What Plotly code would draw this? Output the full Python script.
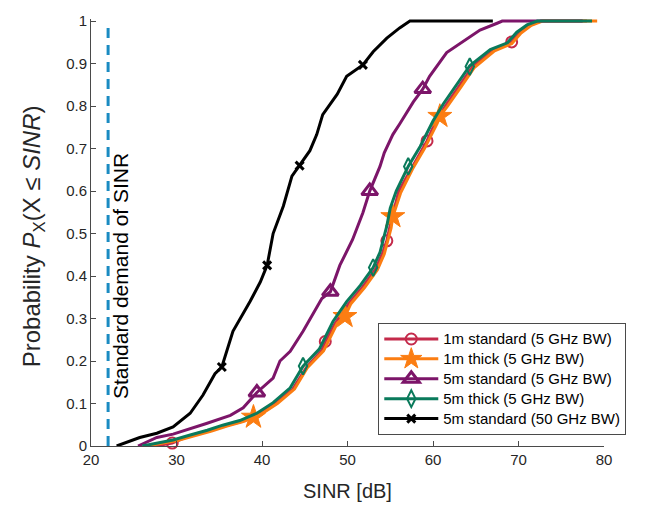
import plotly.graph_objects as go

# ---------------- data ----------------
# 1m standard (5 GHz BW)
s1_x = [27.5, 29.5, 31.0, 33.0, 35.2, 37.5, 39.7, 41.6, 43.6, 45.2, 47.0, 47.4, 48.6, 50.2, 51.8, 53.3,
        54.1, 54.6, 55.0, 56.0, 57.5, 58.8, 59.3, 60.3, 61.5, 63.1, 64.6, 67.0, 69.2, 70.1, 71.3, 72.6, 78.0]
s1_y = [0.0, 0.007, 0.02, 0.032, 0.045, 0.057, 0.075, 0.1, 0.134, 0.185, 0.225, 0.246, 0.29, 0.337, 0.375, 0.417,
        0.454, 0.483, 0.52, 0.6, 0.655, 0.7, 0.718, 0.762, 0.802, 0.848, 0.892, 0.93, 0.951, 0.972, 0.99, 1.0, 1.0]
s1_mx = [29.5, 47.4, 54.6, 59.3, 69.2]
s1_my = [0.007, 0.246, 0.483, 0.718, 0.951]

# 1m thick (5 GHz BW)
s2_x = [26.5, 28.2, 30.1, 32.1, 34.1, 35.9, 37.9, 39.0, 39.9, 41.8, 43.8, 45.3, 47.2, 48.8, 49.7, 50.4, 52.0,
        53.5, 54.3, 55.1, 55.3, 56.2, 57.6, 59.0, 60.5, 60.8, 61.7, 63.3, 64.8, 67.2, 69.2, 70.3, 71.5, 72.8, 79.2]
s2_y = [0.0, 0.006, 0.013, 0.024, 0.035, 0.047, 0.058, 0.068, 0.075, 0.1, 0.134, 0.184, 0.224, 0.289, 0.305, 0.335,
        0.373, 0.415, 0.452, 0.513, 0.54, 0.595, 0.652, 0.7, 0.76, 0.776, 0.8, 0.846, 0.89, 0.93, 0.947, 0.972,
        0.99, 1.0, 1.0]
s2_mx = [39.0, 49.7, 55.3, 60.8]
s2_my = [0.068, 0.305, 0.54, 0.776]

# 5m standard (5 GHz BW)
s3_x = [25.5, 27.7, 29.6, 31.6, 33.5, 36.3, 37.8, 39.4, 41.3, 42.1, 43.3, 44.8, 47.0, 48.0, 49.1, 50.6, 51.8,
        52.6, 53.8, 54.3, 55.3, 56.1, 57.7, 58.8, 59.6, 61.6, 63.5, 65.5, 67.5, 68.1, 77.5]
s3_y = [0.0, 0.02, 0.028, 0.04, 0.053, 0.072, 0.09, 0.126, 0.16, 0.2, 0.223, 0.27, 0.347, 0.363, 0.425, 0.486,
        0.549, 0.6, 0.658, 0.69, 0.733, 0.758, 0.81, 0.84, 0.87, 0.926, 0.951, 0.979, 0.995, 1.0, 1.0]
s3_mx = [39.4, 48.0, 52.6, 58.8]
s3_my = [0.126, 0.363, 0.6, 0.84]

# 5m thick (5 GHz BW)
s4_x = [26.0, 27.7, 29.6, 31.6, 33.6, 35.4, 37.4, 39.4, 41.3, 43.3, 44.8, 46.7, 48.3, 49.9, 51.5, 53.0, 53.8,
        54.6, 55.0, 55.7, 57.1, 58.5, 60.0, 61.2, 62.8, 64.3, 66.7, 68.7, 69.8, 71.0, 72.2, 78.6]
s4_y = [0.0, 0.007, 0.014, 0.026, 0.037, 0.049, 0.06, 0.077, 0.102, 0.137, 0.188, 0.228, 0.293, 0.34, 0.378, 0.42,
        0.456, 0.518, 0.56, 0.6, 0.658, 0.705, 0.765, 0.805, 0.851, 0.895, 0.933, 0.949, 0.974, 0.991, 1.0, 1.0]
s4_mx = [44.8, 53.0, 57.1, 64.3]
s4_my = [0.188, 0.42, 0.658, 0.893]

# 5m standard (50 GHz BW)
s5_x = [23.0, 25.7, 27.7, 29.6, 31.6, 33.1, 34.5, 35.3, 36.6, 38.6, 39.8, 40.6, 41.3, 42.5, 43.5, 44.4, 45.6,
        46.4, 47.1, 48.8, 49.9, 51.8, 53.0, 54.6, 56.1, 57.3, 67.0]
s5_y = [0.0, 0.02, 0.03, 0.045, 0.077, 0.12, 0.17, 0.186, 0.27, 0.34, 0.386, 0.425, 0.5, 0.565, 0.635, 0.66, 0.695,
        0.733, 0.78, 0.828, 0.87, 0.897, 0.928, 0.96, 0.984, 1.0, 1.0]
s5_mx = [35.3, 40.6, 44.4, 51.8]
s5_my = [0.186, 0.425, 0.66, 0.897]

names = ["1m standard (5 GHz BW)", "1m thick (5 GHz BW)", "5m standard (5 GHz BW)",
         "5m thick (5 GHz BW)", "5m standard (50 GHz BW)"]
demand_x = 22
demand_label = "Standard demand of SINR"
x_ticks = [20, 30, 40, 50, 60, 70, 80]
y_ticks = [0, 0.1, 0.2, 0.3, 0.4, 0.5, 0.6, 0.7, 0.8, 0.9, 1]

# ---------------- styles ----------------
colors = ["#c42a4b", "#fb7d12", "#7c1569", "#0a7a5b", "#000000"]
symbols = ["circle-open", "star", "triangle-up-open", "diamond-tall-open", "x-thin-open"]
msizes = [11, 18, 14, 12, 8]
mlines = [2, 1, 3, 2, 3]
FONT = "Liberation Sans, Arial, Helvetica, sans-serif"

series = [(s1_x, s1_y, s1_mx, s1_my), (s2_x, s2_y, s2_mx, s2_my), (s3_x, s3_y, s3_mx, s3_my),
          (s4_x, s4_y, s4_mx, s4_my), (s5_x, s5_y, s5_mx, s5_my)]

fig = go.Figure()

# demand line
fig.add_trace(go.Scatter(x=[demand_x, demand_x], y=[0, 1], mode="lines",
                         line=dict(color="#1a8bc2", width=3, dash="10px,7px"),
                         showlegend=False, hoverinfo="skip"))

for i, (sx, sy, mx, my) in enumerate(series):
    fig.add_trace(go.Scatter(x=sx, y=sy, mode="lines", line=dict(color=colors[i], width=3),
                             showlegend=False, hoverinfo="skip"))
    fig.add_trace(go.Scatter(x=mx, y=my, mode="markers", cliponaxis=False,
                             marker=dict(symbol=symbols[i], size=msizes[i], color=colors[i],
                                         line=dict(color=colors[i], width=mlines[i])),
                             showlegend=False, hoverinfo="skip"))

for i in range(5):
    fig.add_trace(go.Scatter(x=[None], y=[None], mode="lines+markers",
                             name=f'<span style="font-size:15px">{names[i]}</span>',
                             line=dict(color=colors[i], width=3),
                             marker=dict(symbol=symbols[i], size=msizes[i], color=colors[i],
                                         line=dict(color=colors[i], width=mlines[i]))))

axis_common = dict(showline=True, linecolor="#4a4a4a", linewidth=1, ticks="inside", ticklen=5,
                   tickcolor="#4a4a4a", showgrid=False, zeroline=False,
                   tickfont=dict(family=FONT, size=15, color="#262626"))

fig.update_layout(
    width=657, height=506,
    margin=dict(l=91, r=53, t=14, b=60),
    paper_bgcolor="white", plot_bgcolor="white",
    xaxis=dict(range=[20, 80], tickvals=x_ticks, **axis_common),
    yaxis=dict(range=[0, 1.005], tickvals=y_ticks, ticktext=[f"{v:g}" for v in y_ticks], **axis_common),
    legend=dict(x=0.56, y=0.288, xanchor="left", yanchor="top",
                bordercolor="#4a4a4a", borderwidth=1, bgcolor="white",
                font=dict(family=FONT, size=13, color="#000000"),
                itemwidth=54, tracegroupgap=0),
    annotations=[
        dict(text="SINR [dB]", xref="paper", yref="paper", x=0.5, y=-0.074, xanchor="center",
             yanchor="top", showarrow=False, font=dict(family=FONT, size=20, color="#262626")),
        dict(text="Probability <i>P</i><sub>X</sub>(X ≤ <i>SINR</i>)", xref="paper", yref="paper",
             x=-0.112, y=0.49, xanchor="center", yanchor="middle", textangle=-90, showarrow=False,
             font=dict(family=FONT, size=24, color="#262626")),
        dict(text=demand_label, xref="x", yref="y", x=23.4, y=0.4, xanchor="center", yanchor="middle",
             textangle=-90, showarrow=False, font=dict(family=FONT, size=21, color="#000000")),
    ],
)

fig.write_html("out.html")
